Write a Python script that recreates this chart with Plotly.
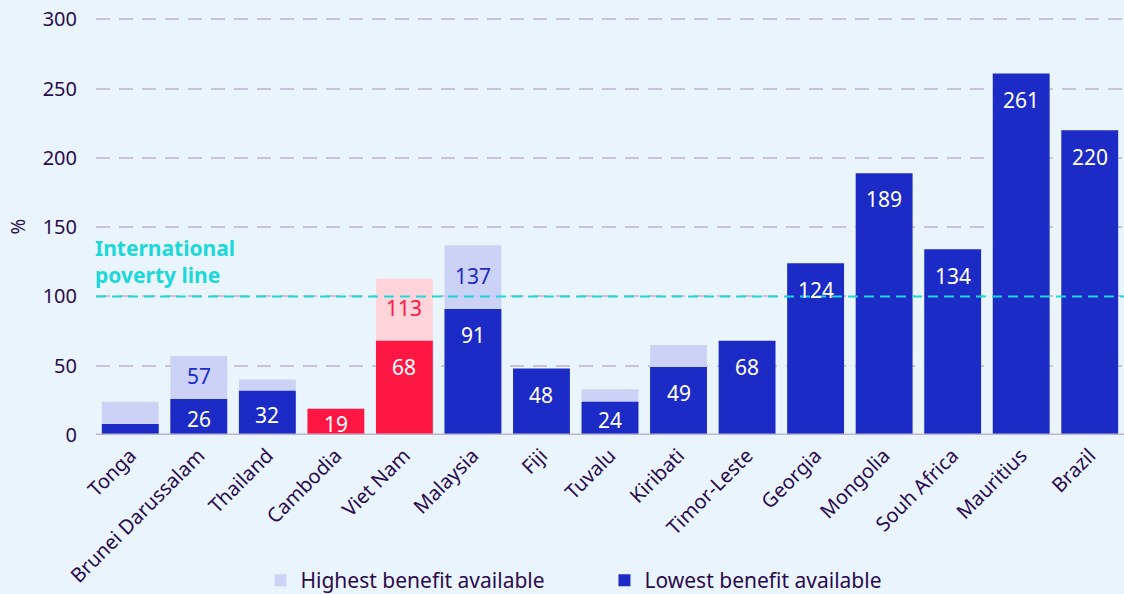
import plotly.graph_objects as go

countries = ["Tonga", "Brunei Darussalam", "Thailand", "Cambodia", "Viet Nam", "Malaysia", "Fiji",
             "Tuvalu", "Kiribati", "Timor-Leste", "Georgia", "Mongolia", "Souh Africa", "Mauritius", "Brazil"]
lowest = [8, 26, 32, 19, 68, 91, 48, 24, 49, 68, 124, 189, 134, 261, 220]
highest = [24, 57, 40, None, 113, 137, None, 33, 65, None, None, None, None, None, None]
highlight = [False, False, False, True, True, False, False, False, False, False, False, False, False, False, False]
ytick_vals = [0, 50, 100, 150, 200, 250, 300]
poverty_line = 100

DARK = "#1c2bc6"
LIGHT = "#ccd1f6"
RED = "#ff1744"
PINK = "#ffd4da"
TEXT = "#2a0b4d"
CYAN = "#1cd8d8"
BG = "#eaf4fd"
FONT = "Noto Sans"

low_colors = [RED if h else DARK for h in highlight]
high_colors = [PINK if h else LIGHT for h in highlight]

fig = go.Figure()
fig.add_trace(go.Bar(x=countries, y=highest, name="Highest benefit available",
                     marker=dict(color=high_colors, line=dict(width=0)), width=0.83))
fig.add_trace(go.Bar(x=countries, y=lowest, name="Lowest benefit available",
                     marker=dict(color=low_colors, line=dict(width=0)), width=0.83))

annotations = []
for c, lo, hi, h in zip(countries, lowest, highest, highlight):
    if lo >= 12:
        annotations.append(dict(x=c, y=max(lo - 19, lo / 2 - 1.5), text=str(lo), showarrow=False,
                                font=dict(color="white", size=21, family=FONT), yanchor="middle"))
    if hi is not None and hi - lo >= 25:
        annotations.append(dict(x=c, y=(hi + lo) / 2 + 1, text=str(hi), showarrow=False,
                                font=dict(color=RED if h else DARK, size=21, family=FONT), yanchor="middle"))

annotations.append(dict(xref="paper", x=0, xanchor="left", xshift=-3, y=125, yanchor="middle",
                        text="<b>International<br>poverty line</b>", align="left", showarrow=False,
                        font=dict(color=CYAN, size=21, family=FONT)))

fig.add_shape(type="line", xref="paper", x0=0, x1=1, y0=poverty_line, y1=poverty_line,
              line=dict(color=CYAN, width=2, dash="10px,6px"))
fig.add_shape(type="line", xref="paper", x0=0, x1=1, y0=0, y1=0, layer="above",
              line=dict(color="#bdb5d0", width=3))

fig.update_layout(
    barmode="overlay",
    width=1124, height=594,
    margin=dict(l=96, r=0, t=18, b=159, autoexpand=False),
    paper_bgcolor=BG, plot_bgcolor=BG,
    font=dict(family=FONT, color=TEXT, size=20),
    annotations=annotations,
    showlegend=True,
    legend=dict(orientation="h", x=0.16, xanchor="left", y=-0.349, yanchor="middle",
                font=dict(size=21, color=TEXT), bgcolor="rgba(0,0,0,0)", itemwidth=30,
                traceorder="normal", entrywidth=299),
    xaxis=dict(tickangle=-45, showgrid=False, ticks="", showline=False, automargin=False,
               ticklabelstandoff=4,
               tickfont=dict(size=20, color=TEXT), range=[-0.5, 14.5]),
    yaxis=dict(range=[0, 301], tickvals=ytick_vals, showgrid=True, gridcolor="#c9c2da",
               griddash="14px,9px", gridwidth=1.5, zeroline=False, automargin=False,
               ticks="", ticklabelstandoff=18,
               tickfont=dict(size=20, color=TEXT),
               title=dict(text="%", font=dict(size=19, color=TEXT), standoff=12)),
)

fig.write_html("out.html", config={"displayModeBar": False},
               post_script="document.body.style.margin='0';document.body.style.padding='0';")
